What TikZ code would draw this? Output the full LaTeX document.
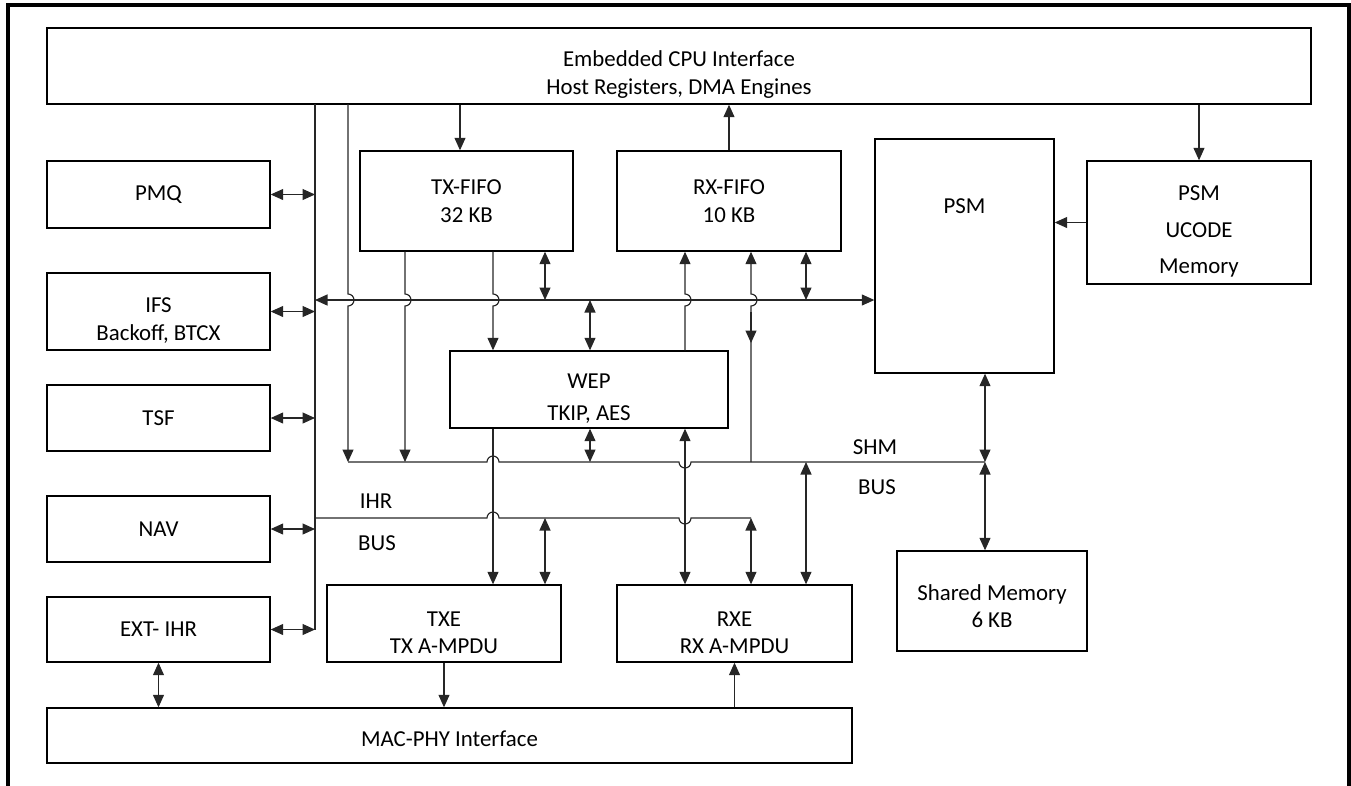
\documentclass[tikz,border=0pt]{standalone}
\usepackage{fontspec}
\setmainfont{Carlito}
\usetikzlibrary{
    arrows.meta,
    positioning,
    calc
}
\newcommand{\lowstrut}{\rule{0pt}{6.6mm}}

\begin{document}
\begin{tikzpicture}[
    x=0.02cm,
    y=-0.02cm,
    block/.style={
        draw=black,
        line width=0.8pt,
        align=center,
        inner sep=2pt,
        font=\fontsize{13}{15.8}\selectfont
    },
    sidebox/.style={
        block,
        minimum width=4.46cm
    },
    buslabel/.style={
        font=\fontsize{13}{15.8}\selectfont
    },
    conn/.style={
        line width=0.65pt,
        draw=black!85
    },
    onearrow/.style={
        conn,
        -{Triangle[length=2.5mm,width=2.2mm]}
    },
    twoarrow/.style={
        conn,
        {Triangle[length=2.5mm,width=2.2mm]}-{Triangle[length=2.5mm,width=2.2mm]}
    }
]

\useasboundingbox (0,0) rectangle (1351,785);
\draw[line width=1.8pt] (8,800) -- (8,5) -- (1349,5) -- (1349,800);

\node[
    block,
    minimum width=25.28cm,
    minimum height=1.52cm
] (cpu) at (679,66) {
    \lowstrut Embedded CPU Interface\\
    Host Registers, DMA Engines
};

\node[sidebox, minimum height=1.34cm] (pmq) at (158.5,194.5) {PMQ};
\node[sidebox, minimum height=1.54cm] (ifs) at (158.5,311.5) {
    \lowstrut IFS\\
    Backoff, BTCX
};
\node[sidebox, minimum height=1.32cm] (tsf) at (158.5,418) {TSF};
\node[sidebox, minimum height=1.32cm] (nav) at (158.5,529) {NAV};
\node[sidebox, minimum height=1.30cm] (ext) at (158.5,629.5) {EXT- IHR};

\node[
    block,
    minimum width=4.26cm,
    minimum height=2.0cm
] (txfifo) at (466.5,201) {
    TX-FIFO\\
    32 KB
};

\node[
    block,
    minimum width=4.48cm,
    minimum height=2.0cm
] (rxfifo) at (729,201) {
    RX-FIFO\\
    10 KB
};

\node[
    block,
    minimum width=3.58cm,
    minimum height=4.68cm
] (psm) at (964.5,256) {};
\node[buslabel] (psmname) at (964.5,206) {PSM};

\node[
    block,
    minimum width=4.48cm,
    minimum height=2.46cm
] (ucode) at (1199,222.5) {
    \lowstrut PSM\\[5pt]
    UCODE\\[5pt]
    Memory
};

\node[
    block,
    minimum width=5.56cm,
    minimum height=1.54cm
] (wep) at (589,389.5) {
    \lowstrut WEP\\[2pt]
    TKIP, AES
};

\node[
    block,
    minimum width=4.68cm,
    minimum height=1.54cm
] (txe) at (444,623.5) {
    \lowstrut TXE\\
    TX A-MPDU
};

\node[
    block,
    minimum width=4.70cm,
    minimum height=1.54cm
] (rxe) at (734.5,623.5) {
    \lowstrut RXE\\
    RX A-MPDU
};

\node[
    block,
    minimum width=3.8cm,
    minimum height=2.0cm
] (shmem) at (992,601) {
    \rule{0pt}{5.2mm}Shared Memory\\
    6 KB
};

\node[
    block,
    minimum width=16.1cm,
    minimum height=1.1cm
] (mac) at (449.5,735.5) {\rule{0pt}{4.6mm}MAC-PHY Interface};

\node[buslabel] (shmtag) at (875,447) {SHM};
\node[buslabel] (shmbus) at (877,487) {BUS};
\node[buslabel] (ihrtag) at (376,501) {IHR};
\node[buslabel] (ihrbus) at (377,543) {BUS};

\coordinate (ihrtop) at (315,104);
\coordinate (ihrend) at (315,630);
\coordinate (shmtop) at (348,104);
\coordinate (shmstart) at (348,462);
\coordinate (shmend) at (985,462);
\coordinate (pbusL) at (315,300);
\coordinate (ihrL) at (315,518);
\coordinate (ihrR) at (751,518);

\draw[conn] (ihrtop) -- (ihrend);
\draw[twoarrow] (pmq.east) -- (pmq.east -| ihrtop);
\draw[twoarrow] (ifs.east) -- (ifs.east -| ihrtop);
\draw[twoarrow] (tsf.east) -- (tsf.east -| ihrtop);
\draw[twoarrow] (nav.east) -- (nav.east -| ihrtop);
\draw[twoarrow] (ext.east) -- (ext.east -| ihrtop);

\draw[twoarrow] (pbusL) -- (pbusL -| psm.west);

\draw[conn] (shmstart) -- (487,462)
    arc[start angle=180, end angle=0, radius=0.12cm] -- (679,462)
    arc[start angle=180, end angle=360, radius=0.12cm] -- (shmend);
\draw[conn] (ihrL) -- (487,518)
    arc[start angle=180, end angle=0, radius=0.12cm] -- (679,518)
    arc[start angle=180, end angle=360, radius=0.12cm] -- (ihrR);

\draw[onearrow] (shmtop) -- (348,294)
    arc[start angle=90, end angle=-90, radius=0.12cm] -- (shmstart);
\draw[onearrow] (txfifo.south -| 405,0) -- (405,294)
    arc[start angle=90, end angle=-90, radius=0.12cm] -- (shmstart -| 405,0);
\draw[onearrow] (txfifo.south -| 493,0) -- (493,294)
    arc[start angle=90, end angle=-90, radius=0.12cm] -- (wep.north -| 493,0);
\draw[twoarrow] (txfifo.south -| 545,0) -- (pbusL -| 545,0);
\draw[twoarrow] (pbusL -| 590,0) -- (wep.north -| 590,0);
\draw[twoarrow] (wep.south -| 590,0) -- (shmstart -| 590,0);
\draw[onearrow] (wep.south -| 493,0) -- (txe.north -| 493,0);

\draw[onearrow] (wep.north -| 685,0) -- (685,306)
    arc[start angle=-90, end angle=90, radius=0.12cm] -- (rxfifo.south -| 685,0);
\draw[twoarrow] (wep.south -| 685,0) -- (rxe.north -| 685,0);
\draw[onearrow] (shmstart -| 751,0) -- (751,306)
    arc[start angle=-90, end angle=90, radius=0.12cm] -- (rxfifo.south -| 751,0);
\draw[onearrow] (751,312) -- (751,343);
\draw[twoarrow] (rxfifo.south -| 806,0) -- (pbusL -| 806,0);
\draw[twoarrow] (shmstart -| 806,0) -- (rxe.north -| 806,0);
\draw[twoarrow] (ihrR) -- (rxe.north -| ihrR);
\draw[twoarrow] (ihrL -| 545,0) -- (txe.north -| 545,0);

\draw[twoarrow] (psm.south -| shmend) -- (shmend);
\draw[twoarrow] (shmend) -- (shmem.north -| shmend);

\draw[onearrow] (cpu.south -| 460,0) -- (txfifo.north -| 460,0);
\draw[onearrow] (rxfifo.north) -- (cpu.south -| rxfifo.north);
\draw[onearrow] (cpu.south -| ucode.north) -- (ucode.north);
\draw[onearrow] (ucode.west) -- (ucode.west -| psm.east);

\draw[onearrow] (txe.south) -- (mac.north -| txe.south);
\draw[onearrow] (mac.north -| rxe.south) -- (rxe.south);
\draw[twoarrow] (ext.south) -- (mac.north -| ext.south);

\end{tikzpicture}
\end{document}
